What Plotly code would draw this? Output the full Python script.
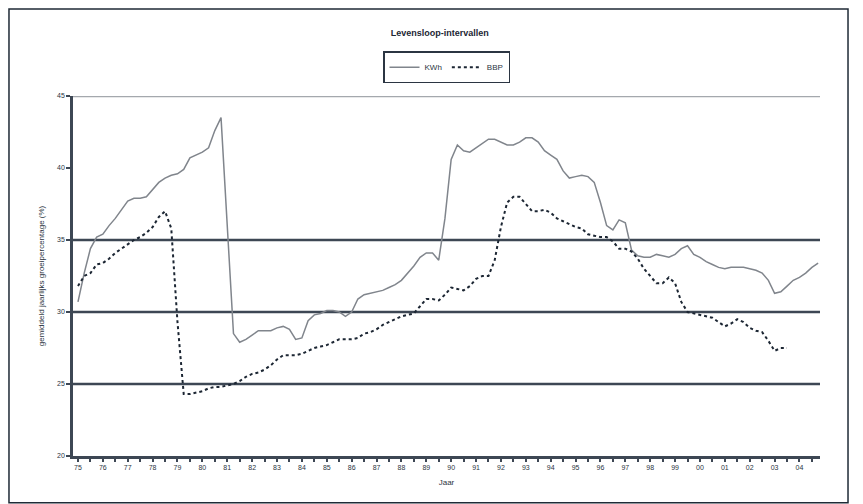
import plotly.graph_objects as go

# quarterly series, 1975 Q1 .. 2004 Q4
kwh = [30.7, 32.7, 34.4, 35.2, 35.4, 36.0, 36.5, 37.1, 37.7, 37.9,
       37.9, 38.0, 38.5, 39.0, 39.3, 39.5, 39.6, 39.9, 40.7, 40.9,
       41.1, 41.4, 42.6, 43.5, 36.0, 28.5, 27.9, 28.1, 28.4, 28.7,
       28.7, 28.7, 28.9, 29.0, 28.8, 28.1, 28.2, 29.4, 29.8, 29.9,
       30.1, 30.1, 30.0, 29.7, 30.0, 30.9, 31.2, 31.3, 31.4, 31.5,
       31.7, 31.9, 32.2, 32.7, 33.2, 33.8, 34.1, 34.1, 33.6, 36.5,
       40.6, 41.6, 41.2, 41.1, 41.4, 41.7, 42.0, 42.0, 41.8, 41.6,
       41.6, 41.8, 42.1, 42.1, 41.8, 41.2, 40.9, 40.6, 39.8, 39.3,
       39.4, 39.5, 39.4, 39.0, 37.6, 36.0, 35.7, 36.4, 36.2, 34.3,
       33.9, 33.8, 33.8, 34.0, 33.9, 33.8, 34.0, 34.4, 34.6, 34.0,
       33.8, 33.5, 33.3, 33.1, 33.0, 33.1, 33.1, 33.1, 33.0, 32.9,
       32.7, 32.2, 31.3, 31.4, 31.8, 32.2, 32.4, 32.7, 33.1, 33.4]

bbp = [31.8, 32.5, 32.7, 33.3, 33.4, 33.7, 34.1, 34.4, 34.7, 35.0,
       35.2, 35.5, 35.9, 36.6, 37.0, 35.8, 29.3, 24.3, 24.3, 24.4,
       24.5, 24.7, 24.8, 24.8, 24.9, 25.0, 25.2, 25.5, 25.7, 25.8,
       26.0, 26.3, 26.7, 27.0, 27.0, 27.0, 27.1, 27.3, 27.5, 27.6,
       27.7, 27.9, 28.1, 28.1, 28.1, 28.2, 28.5, 28.6, 28.8, 29.1,
       29.3, 29.5, 29.7, 29.8, 29.9, 30.4, 30.9, 30.9, 30.8, 31.2,
       31.7, 31.6, 31.5, 31.8, 32.3, 32.5, 32.5, 33.6, 35.9, 37.6,
       38.0, 38.0, 37.5, 37.0, 37.0, 37.1, 36.9, 36.5, 36.3, 36.1,
       35.9, 35.8, 35.4, 35.3, 35.2, 35.2, 34.9, 34.4, 34.4, 34.2,
       33.7, 33.0, 32.5, 32.0, 32.0, 32.4, 32.0, 30.7, 30.0, 29.9,
       29.8, 29.7, 29.6, 29.3, 29.0, 29.2, 29.5, 29.3, 28.9, 28.7,
       28.6, 28.0, 27.3, 27.5, 27.5, None, None, None, None, None]

quarters = list(range(len(kwh)))
year_labels = ["75", "76", "77", "78", "79", "80", "81", "82", "83", "84",
               "85", "86", "87", "88", "89", "90", "91", "92", "93", "94",
               "95", "96", "97", "98", "99", "00", "01", "02", "03", "04"]
y_ticks = [20, 25, 30, 35, 40, 45]

dark = "#3d4754"
txt = "#2b3542"

fig = go.Figure()

fig.add_trace(go.Scatter(
    x=quarters, y=kwh, name="KWh", mode="lines",
    line=dict(color="#80858c", width=1.5)))

fig.add_trace(go.Scatter(
    x=quarters, y=bbp, name="BBP", mode="lines",
    line=dict(color="#1c2633", width=2, dash="3px,3px")))

# horizontal reference lines
for v in [25, 30, 35]:
    fig.add_shape(type="line", xref="paper", yref="y", x0=0, x1=1, y0=v, y1=v,
                  line=dict(color=dark, width=2.5), layer="below")
fig.add_shape(type="line", xref="paper", yref="y", x0=0, x1=1, y0=45, y1=45,
              line=dict(color="#a4a8ad", width=2.5), layer="below")

# chart frame
fig.add_shape(type="rect", xref="paper", yref="paper",
              x0=-0.0857, x1=1.0375, y0=-0.13, y1=1.2417,
              line=dict(color="#1f2a36", width=1.5))

# page body adds an 8px offset, so the figure is sized to the rest of the window
fig.update_layout(
    width=855, height=496,
    margin=dict(l=65, r=43, t=88, b=48),
    paper_bgcolor="white", plot_bgcolor="white",
    font=dict(family="Liberation Sans", size=8, color=txt),
    title=dict(text="<b>Levensloop-intervallen</b>", x=0.505, xanchor="center",
               y=0.95, yanchor="middle", font=dict(size=9, color="#1c2633")),
    showlegend=True,
    legend=dict(orientation="h", x=0.5, xanchor="center", y=1.08, yanchor="middle",
                bordercolor="#2b3542", borderwidth=1.5, bgcolor="white",
                font=dict(size=8, color=txt), itemwidth=30,
                tracegroupgap=0),
    xaxis=dict(
        range=[-0.8, 119.3],
        tickmode="array", tickvals=quarters[::4], ticktext=year_labels,
        ticks="outside", ticklen=3, tickcolor=dark, tickwidth=2,
        minor=dict(tickmode="array", tickvals=quarters[2::4], ticks="outside",
                   ticklen=3, tickcolor=dark, tickwidth=2),
        showline=True, linecolor=dark, linewidth=2.5,
        showgrid=False, zeroline=False,
        tickfont=dict(size=7, color=txt),
        title=dict(text="Jaar", standoff=10, font=dict(size=8, color=txt))),
    yaxis=dict(
        range=[20, 45], tickvals=y_ticks,
        ticks="outside", ticklen=4, tickcolor=dark, tickwidth=2,
        showline=True, linecolor=dark, linewidth=2.5,
        showgrid=False, zeroline=False,
        tickfont=dict(size=7, color=txt),
        title=dict(text="gemiddeld jaarlijks groeipercentage (%)", standoff=12,
                   font=dict(size=8, color=txt))),
)

fig.write_html("out.html")
